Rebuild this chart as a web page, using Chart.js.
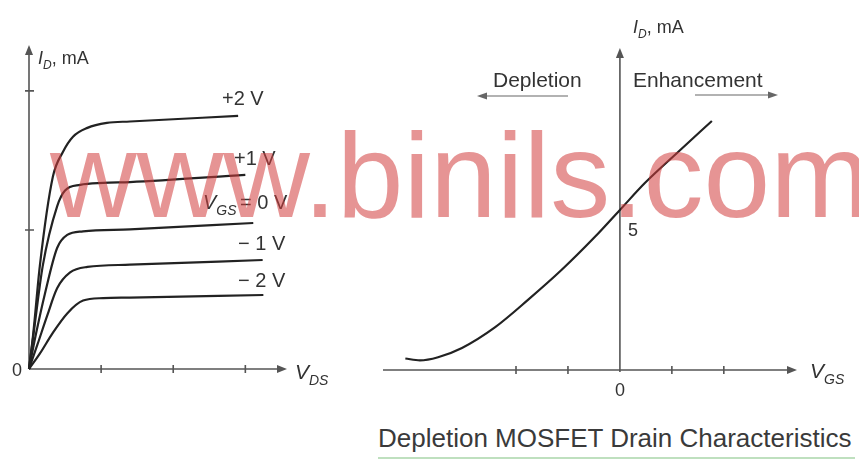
<!DOCTYPE html>
<html>
<head>
<meta charset="utf-8">
<script src="https://cdn.jsdelivr.net/npm/chart.js@4.4.0/dist/chart.umd.min.js"></script>
<style>
  html, body { margin: 0; padding: 0; background: #fff; }
  #page { position: relative; width: 859px; height: 459px; overflow: hidden; font-family: 'Liberation Sans', Arial, sans-serif; }
  #left { position: absolute; left: 0; top: 0; width: 340px; height: 400px; }
  #right { position: absolute; left: 370px; top: 0; width: 489px; height: 400px; }
  #caption { position: absolute; left: 378px; top: 425px; width: 477px; font-size: 26px; line-height: 26px; color: #3a3a3a; white-space: nowrap; border-bottom: 2px solid #bfe0bf; padding-bottom: 6px; }
  #mark { position: absolute; left: 50px; top: 115px; font-size: 120px; line-height: 120px; color: rgba(210, 60, 60, 0.55); white-space: nowrap; pointer-events: none; }
</style>
</head>
<body>
<div id="page">
  <div id="left"><canvas id="chartLeft"></canvas></div>
  <div id="right"><canvas id="chartRight"></canvas></div>
  <div id="caption">Depletion MOSFET Drain Characteristics</div>
  <div id="mark">www.binils.com</div>
</div>
<script>
// Left panel: drain characteristics, I_D (mA) against V_DS, one curve per V_GS
const vdsTicks = [1, 2, 3];
const idTicksLeft = [5, 10];
const curvePlus2 = [[0, 0], [0.06, 1.3], [0.15, 3.7], [0.33, 6.9], [0.47, 7.8], [0.61, 8.35], [0.81, 8.67], [1.08, 8.85], [1.4, 8.9], [2.9, 9.1]];
const curvePlus1 = [[0, 0], [0.08, 1.6], [0.19, 3.7], [0.39, 5.85], [0.5, 6.42], [0.71, 6.62], [1.03, 6.69], [1.4, 6.72], [3.0, 6.98]];
const curveZero = [[0, 0], [0.1, 1.3], [0.22, 2.7], [0.39, 4.35], [0.53, 4.82], [0.75, 4.95], [1.4, 5.02], [3.11, 5.25]];
const curveMinus1 = [[0, 0], [0.12, 0.9], [0.25, 1.9], [0.39, 2.9], [0.57, 3.47], [0.81, 3.67], [1.4, 3.75], [3.24, 3.92]];
const curveMinus2 = [[0, 0], [0.15, 0.55], [0.33, 1.3], [0.53, 2.0], [0.75, 2.46], [1.03, 2.55], [1.4, 2.57], [3.25, 2.66]];
const vgsLabels = ['+2 V', '+1 V', '= 0 V', '\u2212 1 V', '\u2212 2 V'];

// Right panel: transfer characteristic, I_D (mA) against V_GS
const vgsTicks = [-2, -1, 1, 2];
const transferVgs = [-4.13, -3.85, -3.5, -3.04, -2.4, -1.77, -1.12, -0.48, 0, 0.48, 1.12, 1.77];
const transferId = [0.36, 0.3, 0.4, 0.69, 1.34, 2.19, 3.13, 4.16, 5.0, 5.84, 6.81, 7.78];

const inkAxis = '#555';
const inkCurve = '#222';
const inkText = '#333';

function toPoints(pairs) {
    return pairs.map(p => ({ x: p[0], y: p[1] }));
}

function arrow(ctx, x, y, dir, len, half) {
    ctx.beginPath();
    if (dir === 'up') {
        ctx.moveTo(x, y); ctx.lineTo(x - half, y + len); ctx.lineTo(x + half, y + len);
    } else if (dir === 'right') {
        ctx.moveTo(x, y); ctx.lineTo(x - len, y - half); ctx.lineTo(x - len, y + half);
    } else {
        ctx.moveTo(x, y); ctx.lineTo(x + len, y - half); ctx.lineTo(x + len, y + half);
    }
    ctx.closePath();
    ctx.fill();
}

// symbol with italic letter and italic subscript, then plain rest
function symbol(ctx, x, base, letter, sub, rest, size) {
    ctx.textAlign = 'left';
    ctx.textBaseline = 'alphabetic';
    ctx.font = 'italic ' + size + 'px "Liberation Sans", Arial';
    ctx.fillText(letter, x, base);
    x += ctx.measureText(letter).width;
    ctx.font = 'italic ' + Math.round(size * 0.68) + 'px "Liberation Sans", Arial';
    ctx.fillText(sub, x, base + size * 0.3);
    x += ctx.measureText(sub).width;
    if (rest) {
        ctx.font = size + 'px "Liberation Sans", Arial';
        ctx.fillText(rest, x, base);
    }
}

function plainText(ctx, text, x, base, size, align) {
    ctx.font = size + 'px "Liberation Sans", Arial';
    ctx.textAlign = align || 'left';
    ctx.textBaseline = 'alphabetic';
    ctx.fillText(text, x, base);
}

const leftDecor = {
    id: 'leftDecor',
    beforeDatasetsDraw(chart) {
        const ctx = chart.ctx;
        const xs = chart.scales.x, ys = chart.scales.y, area = chart.chartArea;
        const ox = xs.getPixelForValue(0), oy = ys.getPixelForValue(0);
        ctx.save();
        ctx.strokeStyle = inkAxis;
        ctx.fillStyle = inkAxis;
        ctx.lineWidth = 1.6;
        ctx.beginPath();
        ctx.moveTo(ox, oy); ctx.lineTo(ox, area.top + 6);
        ctx.moveTo(ox, oy); ctx.lineTo(area.right - 6, oy);
        vdsTicks.forEach(v => {
            const px = xs.getPixelForValue(v);
            ctx.moveTo(px, oy - 4); ctx.lineTo(px, oy + 4);
        });
        idTicksLeft.forEach(v => {
            const py = ys.getPixelForValue(v);
            ctx.moveTo(ox - 4, py); ctx.lineTo(ox + 5, py);
        });
        ctx.stroke();
        arrow(ctx, ox, area.top, 'up', 10, 4);
        arrow(ctx, area.right + 2, oy, 'right', 10, 4);

        ctx.fillStyle = inkText;
        symbol(ctx, 38, 64, 'I', 'D', ', mA', 18);
        symbol(ctx, 295, 379, 'V', 'DS', '', 21);
        plainText(ctx, '0', 12, 376, 18);
        plainText(ctx, vgsLabels[0], 222, 105, 20);
        plainText(ctx, vgsLabels[1], 234, 165, 20);
        symbol(ctx, 203, 209, 'V', 'GS', '', 20);
        plainText(ctx, vgsLabels[2], 240, 209, 20);
        plainText(ctx, vgsLabels[3], 238, 250, 20);
        plainText(ctx, vgsLabels[4], 238, 287, 20);
        ctx.restore();
    }
};

const rightDecor = {
    id: 'rightDecor',
    beforeDatasetsDraw(chart) {
        const ctx = chart.ctx;
        const xs = chart.scales.x, ys = chart.scales.y, area = chart.chartArea;
        const ox = xs.getPixelForValue(0), oy = ys.getPixelForValue(0);
        ctx.save();
        ctx.strokeStyle = inkAxis;
        ctx.fillStyle = inkAxis;
        ctx.lineWidth = 1.6;
        ctx.beginPath();
        ctx.moveTo(ox, oy + 2); ctx.lineTo(ox, area.top + 6);
        ctx.moveTo(area.left, oy); ctx.lineTo(area.right - 6, oy);
        vgsTicks.forEach(v => {
            const px = xs.getPixelForValue(v);
            ctx.moveTo(px, oy - 4); ctx.lineTo(px, oy + 4);
        });
        ctx.stroke();
        arrow(ctx, ox, area.top, 'up', 10, 4);
        arrow(ctx, area.right + 2, oy, 'right', 10, 4);

        // region arrows
        ctx.lineWidth = 1.2;
        ctx.strokeStyle = '#666';
        ctx.fillStyle = '#666';
        ctx.beginPath();
        ctx.moveTo(198, 96); ctx.lineTo(115, 96);
        ctx.moveTo(325, 95); ctx.lineTo(400, 95);
        ctx.stroke();
        arrow(ctx, 107, 96, 'left', 10, 3.5);
        arrow(ctx, 408, 95, 'right', 10, 3.5);

        ctx.fillStyle = inkText;
        symbol(ctx, 263, 33, 'I', 'D', ', mA', 18);
        symbol(ctx, 440, 378, 'V', 'GS', '', 21);
        plainText(ctx, '0', ox, 396, 18, 'center');
        plainText(ctx, '5', ox + 13, 236, 18, 'center');
        plainText(ctx, 'Depletion', 123, 87, 21);
        plainText(ctx, 'Enhancement', 263, 87, 21);
        ctx.restore();
    }
};

const curveStyle = {
    borderColor: inkCurve,
    borderWidth: 2.2,
    pointRadius: 0,
    showLine: true,
    cubicInterpolationMode: 'monotone',
    clip: false
};

new Chart(document.getElementById('chartLeft'), {
    type: 'scatter',
    data: {
        datasets: [curvePlus2, curvePlus1, curveZero, curveMinus1, curveMinus2].map((c, i) => Object.assign({
            label: vgsLabels[i],
            data: toPoints(c)
        }, curveStyle))
    },
    options: {
        responsive: true,
        maintainAspectRatio: false,
        devicePixelRatio: 1,
        animation: false,
        layout: { padding: { left: 29, top: 45, right: 55, bottom: 31 } },
        scales: {
            x: { type: 'linear', display: false, min: 0, max: 3.55 },
            y: { type: 'linear', display: false, min: 0, max: 11.65 }
        },
        plugins: { legend: { display: false }, tooltip: { enabled: false } }
    },
    plugins: [leftDecor]
});

new Chart(document.getElementById('chartRight'), {
    type: 'scatter',
    data: {
        datasets: [Object.assign({
            label: 'I_D',
            data: transferVgs.map((v, i) => ({ x: v, y: transferId[i] }))
        }, curveStyle)]
    },
    options: {
        responsive: true,
        maintainAspectRatio: false,
        devicePixelRatio: 1,
        animation: false,
        layout: { padding: { left: 13, top: 48, right: 64, bottom: 30 } },
        scales: {
            x: { type: 'linear', display: false, min: -4.56, max: 3.37 },
            y: { type: 'linear', display: false, min: 0, max: 10.06 }
        },
        plugins: { legend: { display: false }, tooltip: { enabled: false } }
    },
    plugins: [rightDecor]
});
</script>
</body>
</html>
